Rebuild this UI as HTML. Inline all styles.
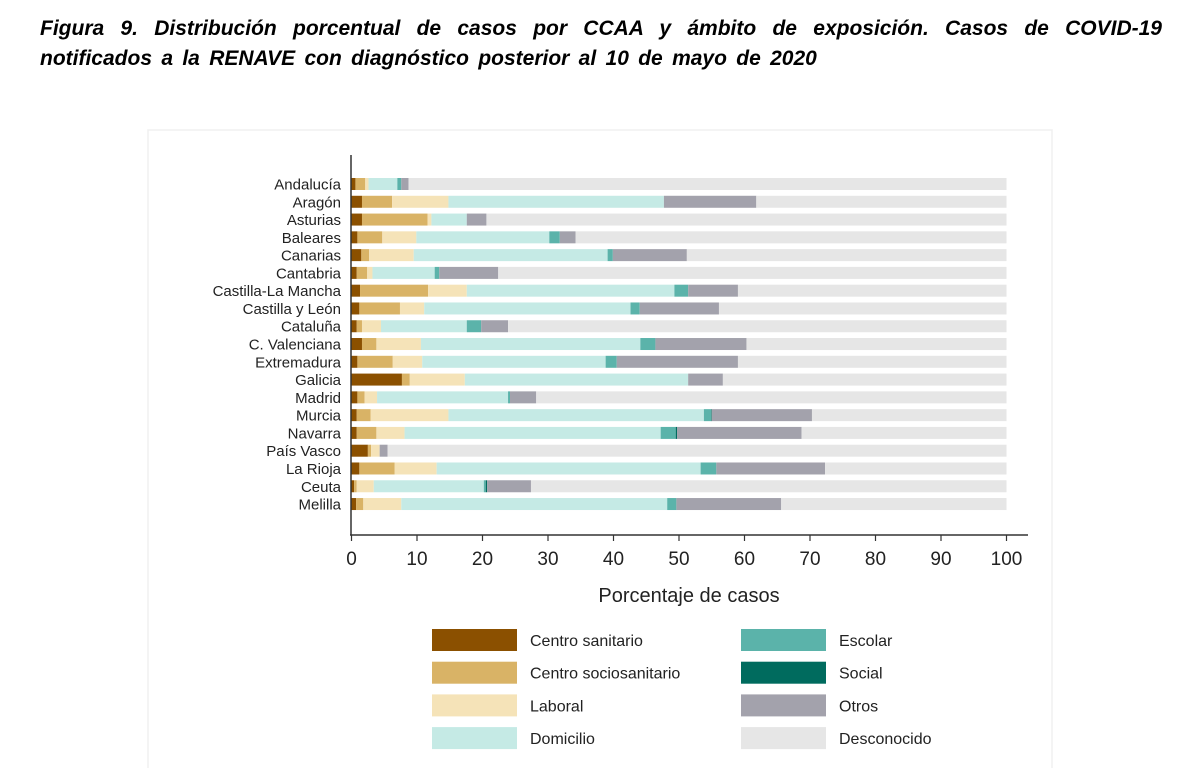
<!DOCTYPE html>
<html><head><meta charset="utf-8"><style>
body{margin:0;background:#fff;width:1200px;height:768px;overflow:hidden;font-family:"Liberation Sans",sans-serif}
.tl{position:absolute;left:40px;width:1122px;font-weight:bold;font-style:italic;font-size:21px;line-height:30px;color:#000;white-space:nowrap}
#t1{top:14px;text-align:justify;text-align-last:justify;white-space:normal}
#t2{top:44px;word-spacing:3.5px}
</style></head><body>
<div>
<div class="tl" id="t1">Figura 9. Distribución porcentual de casos por CCAA y ámbito de exposición. Casos de COVID-19</div>
<div class="tl" id="t2">notificados a la RENAVE con diagnóstico posterior al 10 de mayo de 2020</div>
</div>
<svg id="chart" width="1200" height="768" style="position:absolute;left:0;top:0"></svg>
<script>
const categories=["Andalucía","Aragón","Asturias","Baleares","Canarias","Cantabria","Castilla-La Mancha","Castilla y León","Cataluña","C. Valenciana","Extremadura","Galicia","Madrid","Murcia","Navarra","País Vasco","La Rioja","Ceuta","Melilla"];
const seriesNames=["Centro sanitario","Centro sociosanitario","Laboral","Domicilio","Escolar","Social","Otros","Desconocido"];
const centroSanitario=[0.6,1.6,1.6,0.9,1.5,0.8,1.3,1.2,0.8,1.6,0.9,7.7,0.9,0.8,0.8,2.5,1.2,0.4,0.7];
const centroSociosanitario=[1.5,4.6,10.0,3.8,1.2,1.6,10.4,6.2,0.8,2.2,5.4,1.2,1.1,2.1,3.0,0.5,5.4,0.4,1.1];
const laboral=[0.5,8.6,0.6,5.2,6.8,0.8,5.9,3.7,2.9,6.8,4.5,8.4,1.9,11.9,4.3,1.3,6.4,2.6,5.8];
const domicilio=[4.4,32.9,5.4,20.3,29.6,9.5,31.7,31.5,13.1,33.5,28.0,34.1,20.0,39.0,39.1,0,40.3,16.8,40.6];
const escolar=[0.6,0,0,1.6,0.8,0.7,2.1,1.4,2.2,2.3,1.7,0,0.3,1.1,2.3,0,2.4,0.3,1.4];
const social=[0,0,0,0,0,0,0,0,0,0,0,0,0,0.1,0.2,0,0,0.2,0];
const otros=[1.1,14.1,3.0,2.4,11.3,9.0,7.6,12.1,4.1,13.9,18.5,5.3,4.0,15.3,19.0,1.2,16.6,6.7,16.0];
const xTicks=[0,10,20,30,40,50,60,70,80,90,100];
const colors=["#8B5000","#D9B366","#F5E3B8","#C5EAE5","#5BB3AA","#006B5E","#A3A2AC","#E6E6E6"];
const NS="http://www.w3.org/2000/svg";
const svg=document.getElementById('chart');
const x0=351.5,x1=1006.5,yTop=184,yStep=17.78,barH=12;
const xs=v=>x0+(x1-x0)*v/100;
const ys=i=>yTop+i*yStep;
function mk(t,a,p){const e=document.createElementNS(NS,t);for(const k in a)e.setAttribute(k,a[k]);(p||svg).appendChild(e);return e;}
const panel=mk('rect',{x:148,y:130,width:904,height:640,fill:'none',stroke:'#f0f0f0','stroke-width':1.5});


const seriesArr=[centroSanitario,centroSociosanitario,laboral,domicilio,escolar,social,otros];
categories.forEach((c,i)=>{
  const vals=seriesArr.map(s=>s[i]);
  const sum=vals.reduce((a,b)=>a+b,0);
  vals.push(100-sum);
  let acc=0;
  vals.forEach((v,k)=>{
    if(v<=0){return;}
    const r=mk('rect',{x:xs(acc),y:ys(i)-barH/2,width:xs(acc+v)-xs(acc),height:barH,fill:colors[k]});
    
    
    acc+=v;
  });
  const t=mk('text',{x:341,y:ys(i)+5.5,'text-anchor':'end','font-size':15,fill:'#222'});
  t.textContent=c;
  
  
});
const ya=mk('line',{x1:351,y1:155,x2:351,y2:535,stroke:'#333','stroke-width':1.5});


const xa=mk('line',{x1:350,y1:535,x2:1028,y2:535,stroke:'#333','stroke-width':1.5});


xTicks.forEach(v=>{
  mk('line',{x1:xs(v),y1:535,x2:xs(v),y2:541,stroke:'#333','stroke-width':1.2});
  const t=mk('text',{x:xs(v),y:565,'text-anchor':'middle','font-size':19,fill:'#222'});
  t.textContent=v;
  
  
});
const xt=mk('text',{x:689,y:602,'text-anchor':'middle','font-size':20,fill:'#222'});
xt.textContent="Porcentaje de casos";


const legendOrder=[0,4,1,5,2,6,3,7];
legendOrder.forEach((k,j)=>{
  const col=j%2,row=Math.floor(j/2);
  const lx=col?741:432,ly=629+row*32.7;
  const r=mk('rect',{x:lx,y:ly,width:85,height:22,fill:colors[k]});
  
  
  const t=mk('text',{x:lx+98,y:ly+17,'font-size':16,fill:'#222'});
  t.textContent=seriesNames[k];
  
  
});
</script>
</body></html>
